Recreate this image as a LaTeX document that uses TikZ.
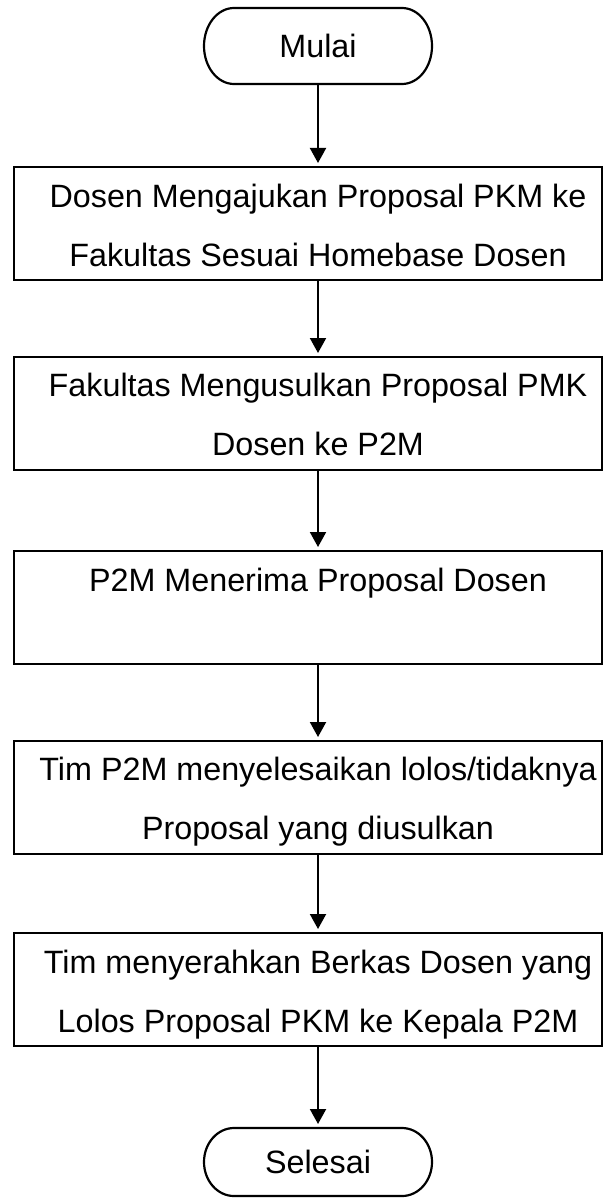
\documentclass[tikz,border=0pt]{standalone}
\usepackage{fontspec}
\setmainfont{Liberation Sans}
\usetikzlibrary{arrows.meta}
\begin{document}
\begin{tikzpicture}[x=1pt,y=-1pt,
  every node/.style={inner sep=0pt, outer sep=0pt},
  flowline/.style={line width=2.2pt, draw=black},
  procbox/.style={flowline, minimum width=588pt, minimum height=113pt},
  termshape/.style={minimum width=228pt, minimum height=76pt},
  endshape/.style={minimum width=228pt, minimum height=68pt},
  flowtext/.style={align=center, font=\fontsize{32.3}{59}\selectfont},
  flowarrow/.style={line width=2pt, -{Triangle[width=16pt,length=15pt]}, shorten >=4pt}
]
\useasboundingbox (0,0) rectangle (611,1198);

% vertical axis of the flow
\coordinate (axis) at (318,0);

% start terminal
\node[termshape, flowtext] (mulai) at (318,46) {\strut Mulai};
\draw[flowline] ([xshift=30pt]mulai.north west) -- ([xshift=-30pt]mulai.north east)
  arc[start angle=90, end angle=-90, x radius=30pt, y radius=38pt]
  -- ([xshift=30pt]mulai.south west)
  arc[start angle=270, end angle=90, x radius=30pt, y radius=38pt] -- cycle;

% process boxes
\node[procbox] (b1) at (308,223.5) {};
\node[flowtext] (t1) at (318,225) {\strut Dosen Mengajukan Proposal PKM ke\\\strut Fakultas Sesuai Homebase Dosen};

\node[procbox] (b2) at (308,413.5) {};
\node[flowtext] (t2) at (318,414) {\strut Fakultas Mengusulkan Proposal PMK\\\strut Dosen ke P2M};

\node[procbox] (b3) at (308,607.5) {};
\node[flowtext] (t3) at (318,580) {\strut P2M Menerima Proposal Dosen};

\node[procbox] (b4) at (308,797.5) {};
\node[flowtext] (t4) at (318,798) {\strut Tim P2M menyelesaikan lolos/tidaknya\\\strut Proposal yang diusulkan};

\node[procbox] (b5) at (308,989.5) {};
\node[flowtext] (t5) at (318,991) {\strut Tim menyerahkan Berkas Dosen yang\\\strut Lolos Proposal PKM ke Kepala P2M};

% end terminal
\node[endshape, flowtext] (selesai) at (318,1162) {\strut Selesai};
\draw[flowline] ([xshift=30pt]selesai.north west) -- ([xshift=-30pt]selesai.north east)
  arc[start angle=90, end angle=-90, x radius=30pt, y radius=34pt]
  -- ([xshift=30pt]selesai.south west)
  arc[start angle=270, end angle=90, x radius=30pt, y radius=34pt] -- cycle;

% connectors
\draw[flowarrow] (mulai.south -| axis) -- (b1.north -| axis);
\draw[flowarrow] (b1.south -| axis) -- (b2.north -| axis);
\draw[flowarrow] (b2.south -| axis) -- (b3.north -| axis);
\draw[flowarrow] (b3.south -| axis) -- (b4.north -| axis);
\draw[flowarrow] (b4.south -| axis) -- (b5.north -| axis);
\draw[flowarrow] (b5.south -| axis) -- (selesai.north -| axis);
\end{tikzpicture}
\end{document}
